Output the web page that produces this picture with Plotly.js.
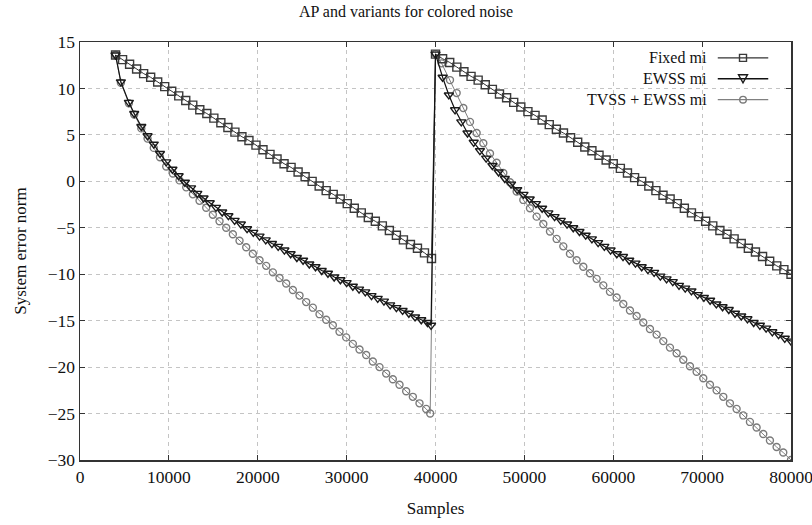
<!DOCTYPE html>
<html>
<head>
<meta charset="utf-8">
<script src="https://cdn.plot.ly/plotly-3.0.1.min.js"></script>
<style>html,body{margin:0;padding:0;background:#fff;}#chart{width:812px;height:525px;}</style>
</head>
<body>
<div id="chart"></div>
<script>
// ---------- data ----------
var seriesNames = ["Fixed mi", "EWSS mi", "TVSS + EWSS mi"];

// Fixed mi, first run
var fixedX1 = [4000, 4790, 5580, 6370, 7160, 7950, 8740, 9530, 10320, 11110, 11900, 12690, 13480, 14270, 15060, 15850, 16640, 17430, 18220, 19010, 19800, 20590, 21380, 22170, 22960, 23750, 24540, 25330, 26120, 26910, 27700, 28490, 29280, 30070, 30860, 31650, 32440, 33230, 34020, 34810, 35600, 36390, 37180, 37970, 38760, 39550];
var fixedY1 = [13.6, 13.1, 12.6, 12.1, 11.6, 11.2, 10.7, 10.2, 9.7, 9.2, 8.7, 8.2, 7.7, 7.3, 6.8, 6.3, 5.8, 5.3, 4.8, 4.4, 3.9, 3.4, 2.9, 2.4, 1.9, 1.5, 1.0, 0.5, 0.0, -0.5, -1.0, -1.4, -1.9, -2.4, -2.9, -3.4, -3.9, -4.3, -4.8, -5.3, -5.8, -6.3, -6.8, -7.2, -7.7, -8.3];
// Fixed mi, second run
var fixedX2 = [40000, 40800, 41600, 42400, 43200, 44000, 44800, 45600, 46400, 47200, 48000, 48800, 49600, 50400, 51200, 52000, 52800, 53600, 54400, 55200, 56000, 56800, 57600, 58400, 59200, 60000, 60800, 61600, 62400, 63200, 64000, 64800, 65600, 66400, 67200, 68000, 68800, 69600, 70400, 71200, 72000, 72800, 73600, 74400, 75200, 76000, 76800, 77600, 78400, 79200, 80000];
var fixedY2 = [13.7, 13.2, 12.8, 12.3, 11.8, 11.3, 10.9, 10.4, 9.9, 9.4, 9.0, 8.5, 8.0, 7.5, 7.1, 6.6, 6.1, 5.6, 5.2, 4.7, 4.2, 3.7, 3.3, 2.8, 2.3, 1.9, 1.4, 0.9, 0.4, 0.0, -0.5, -1.0, -1.5, -1.9, -2.4, -2.9, -3.4, -3.8, -4.3, -4.8, -5.3, -5.7, -6.2, -6.7, -7.2, -7.6, -8.1, -8.6, -9.1, -9.5, -10.0];

// EWSS mi, first run
var ewssX1 = [4000, 4600, 5500, 6100, 6900, 7600, 8300, 9000, 9700, 10400, 11100, 11800, 12500, 13200, 13900, 14600, 15300, 16000, 16700, 17400, 18100, 18800, 19500, 20200, 20900, 21600, 22300, 23000, 23700, 24400, 25100, 25800, 26500, 27200, 27900, 28600, 29300, 30000, 30700, 31400, 32100, 32800, 33500, 34200, 34900, 35600, 36300, 37000, 37700, 38400, 39100, 39500];
var ewssY1 = [13.6, 10.7, 8.5, 7.3, 5.9, 4.9, 4.0, 3.0, 2.1, 1.3, 0.6, -0.1, -0.7, -1.3, -1.8, -2.3, -2.8, -3.3, -3.7, -4.2, -4.6, -5.1, -5.5, -5.9, -6.3, -6.7, -7.0, -7.4, -7.8, -8.2, -8.5, -8.9, -9.2, -9.6, -9.9, -10.3, -10.6, -10.9, -11.3, -11.6, -11.9, -12.3, -12.6, -12.9, -13.3, -13.6, -13.9, -14.2, -14.6, -14.9, -15.2, -15.5];
// EWSS mi, second run
var ewssX2 = [40000, 40800, 41500, 42200, 42900, 43600, 44300, 45000, 45700, 46400, 47100, 47800, 48500, 49200, 49900, 50600, 51300, 52000, 52700, 53400, 54100, 54800, 55500, 56200, 56900, 57600, 58300, 59000, 59700, 60400, 61100, 61800, 62500, 63200, 63900, 64600, 65300, 66000, 66700, 67400, 68100, 68800, 69500, 70200, 70900, 71600, 72300, 73000, 73700, 74400, 75100, 75800, 76500, 77200, 77900, 78600, 79300, 80000];
var ewssY2 = [13.7, 11.2, 9.3, 7.7, 6.4, 5.2, 4.2, 3.3, 2.5, 1.7, 1.0, 0.3, -0.3, -0.9, -1.4, -1.9, -2.4, -2.9, -3.4, -3.8, -4.2, -4.6, -5.0, -5.4, -5.8, -6.2, -6.6, -7.0, -7.4, -7.8, -8.1, -8.5, -8.8, -9.2, -9.5, -9.8, -10.2, -10.5, -10.8, -11.2, -11.5, -11.8, -12.2, -12.5, -12.8, -13.2, -13.5, -13.8, -14.2, -14.5, -14.8, -15.2, -15.5, -15.8, -16.2, -16.5, -16.9, -17.2];

// TVSS + EWSS mi, first run
var tvssX1 = [4000, 4600, 5500, 6100, 6900, 7600, 8300, 9000, 9700, 10450, 11200, 11950, 12700, 13450, 14200, 14950, 15700, 16450, 17200, 17950, 18700, 19450, 20200, 20950, 21700, 22450, 23200, 23950, 24700, 25450, 26200, 26950, 27700, 28450, 29200, 29950, 30700, 31450, 32200, 32950, 33700, 34450, 35200, 35950, 36700, 37450, 38200, 38950, 39400];
var tvssY1 = [13.6, 10.6, 8.4, 7.2, 5.7, 4.6, 3.6, 2.6, 1.6, 0.85, 0.1, -0.65, -1.4, -2.1, -2.85, -3.6, -4.3, -5.0, -5.7, -6.4, -7.1, -7.8, -8.5, -9.1, -9.8, -10.4, -11.0, -11.7, -12.3, -13.0, -13.6, -14.3, -14.9, -15.5, -16.2, -16.8, -17.5, -18.1, -18.7, -19.4, -20.0, -20.7, -21.3, -21.9, -22.6, -23.2, -23.9, -24.5, -25.0];
// TVSS + EWSS mi, second run
var tvssX2 = [40000, 40690, 41630, 42380, 43130, 43880, 44630, 45380, 46130, 46880, 47630, 48380, 49130, 49880, 50630, 51380, 52130, 52880, 53630, 54380, 55130, 55880, 56630, 57380, 58130, 58880, 59630, 60380, 61130, 61880, 62630, 63380, 64130, 64880, 65630, 66380, 67130, 67880, 68630, 69380, 70130, 70880, 71630, 72380, 73130, 73880, 74630, 75380, 76130, 76880, 77630, 78380, 79130, 80000];
var tvssY2 = [13.7, 12.7, 10.9, 9.5, 7.9, 6.4, 5.2, 4.1, 3.0, 2.0, 0.9, -0.1, -1.1, -2.0, -2.9, -3.8, -4.6, -5.4, -6.2, -7.0, -7.8, -8.5, -9.2, -9.9, -10.5, -11.2, -11.9, -12.5, -13.2, -13.9, -14.5, -15.2, -15.9, -16.5, -17.2, -17.9, -18.5, -19.2, -19.9, -20.5, -21.2, -21.9, -22.5, -23.2, -23.9, -24.5, -25.2, -25.9, -26.5, -27.2, -27.9, -28.6, -29.2, -30.0];

var xTicks = [0, 10000, 20000, 30000, 40000, 50000, 60000, 70000, 80000];
var yTicks = [15, 10, 5, 0, -5, -10, -15, -20, -25, -30];

// ---------- styles ----------
var FONT = '"Liberation Serif", "Times New Roman", Times, serif';
var styles = [
  {color: '#3a3a3a', line: '#333333', symbol: 'square-open', size: 8, lw: 1},
  {color: '#1a1a1a', line: '#111111', symbol: 'triangle-down-open', size: 8, lw: 1.2},
  {color: '#7a7a7a', line: '#808080', symbol: 'circle-open', size: 7, lw: 1}
];
var xs = [fixedX1.concat(fixedX2), ewssX1.concat(ewssX2), tvssX1.concat(tvssX2)];
var ys = [fixedY1.concat(fixedY2), ewssY1.concat(ewssY2), tvssY1.concat(tvssY2)];

// draw order: TVSS at the bottom, EWSS on top
var order = [2, 0, 1];
var traces = order.map(function (i) {
  var s = styles[i];
  return {
    x: xs[i], y: ys[i], name: seriesNames[i], type: 'scatter', mode: 'lines+markers',
    line: {color: s.line, width: s.lw},
    marker: {symbol: s.symbol, size: s.size, color: s.color, line: {width: 1.4, color: s.color}},
    showlegend: false, hoverinfo: 'x+y+name'
  };
});

// ---------- legend (text on the left, sample on the right) ----------
var legRows = [0.962, 0.912, 0.862];
var annotations = [], shapes = [];
seriesNames.forEach(function (nm, i) {
  var s = styles[i];
  annotations.push({xref: 'paper', yref: 'paper', x: 0.884, y: legRows[i], text: nm, showarrow: false,
    xanchor: 'right', yanchor: 'middle', font: {family: FONT, size: 16, color: '#111'}});
  shapes.push({type: 'line', xref: 'paper', yref: 'paper', x0: 0.897, x1: 0.968, y0: legRows[i], y1: legRows[i],
    line: {color: s.line, width: s.lw + 0.3}});
  var common = {xref: 'paper', yref: 'paper', xsizemode: 'pixel', ysizemode: 'pixel',
    xanchor: 0.9325, yanchor: legRows[i], fillcolor: 'rgba(255,255,255,0)', line: {color: s.color, width: 1.4}};
  if (i === 0) shapes.push(Object.assign({type: 'rect', x0: -3.5, x1: 3.5, y0: -3.5, y1: 3.5}, common));
  if (i === 1) shapes.push(Object.assign({type: 'path', path: 'M -4.5 4 L 4.5 4 L 0 -4 Z'}, common));
  if (i === 2) shapes.push(Object.assign({type: 'circle', x0: -3.3, x1: 3.3, y0: -3.3, y1: 3.3}, common));
});

var axisCommon = {
  showgrid: true, gridcolor: '#c4c4c4', gridwidth: 1, griddash: '4px,4px', zeroline: false,
  showline: true, linecolor: '#333', linewidth: 1.5, mirror: 'ticks',
  ticks: 'inside', ticklen: 5, tickwidth: 1.2, tickcolor: '#333',
  tickfont: {family: FONT, size: 17.5, color: '#111'}, exponentformat: 'none', separatethousands: false,
  tickmode: 'array', ticklabeloverflow: 'allow'
};

var layout = {
  width: 812, height: 525,
  margin: {l: 80, r: 21, t: 42, b: 65, pad: 0},
  paper_bgcolor: '#fff', plot_bgcolor: '#fff',
  font: {family: FONT, color: '#111'},
  title: {text: 'AP and variants for colored noise', x: 0.5, xanchor: 'center', y: 0.978, yanchor: 'middle',
    font: {family: FONT, size: 16, color: '#111'}},
  xaxis: Object.assign({}, axisCommon, {range: [0, 80000], tickvals: xTicks, ticktext: xTicks.map(String),
    title: {text: 'Samples', standoff: 16, font: {family: FONT, size: 17, color: '#111'}}}),
  yaxis: Object.assign({}, axisCommon, {range: [-30, 15], tickvals: yTicks,
    title: {text: 'System error norm', standoff: 16, font: {family: FONT, size: 17, color: '#111'}}}),
  showlegend: false,
  annotations: annotations,
  shapes: shapes
};

Plotly.newPlot('chart', traces, layout, {displayModeBar: false, staticPlot: true});
</script>
</body>
</html>
